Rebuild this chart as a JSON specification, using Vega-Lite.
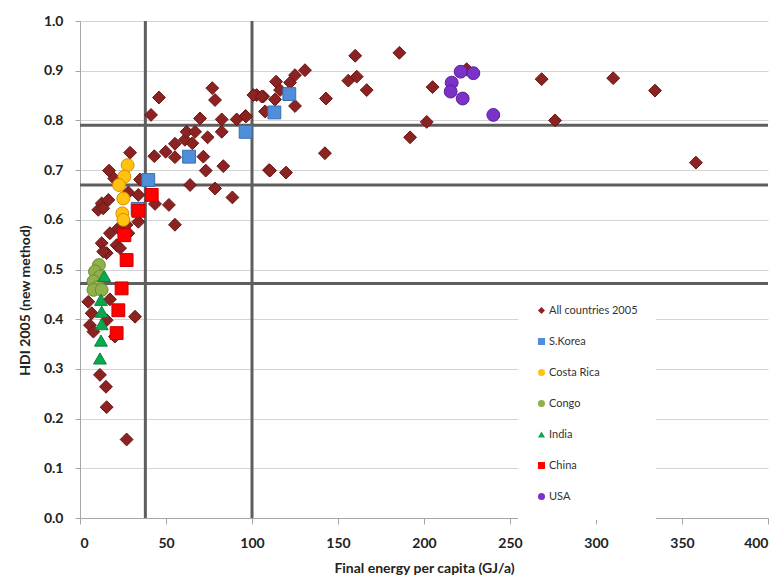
{
  "$schema": "https://vega.github.io/schema/vega-lite/v6.json",
  "width": 688,
  "height": 497,
  "autosize": {"type": "none"},
  "padding": {"left": 80, "top": 21, "right": 16, "bottom": 65},
  "background": "white",
  "config": {
    "view": {"stroke": null},
    "font": "Lato",
    "axis": {"labelFont": "Lato", "titleFont": "Lato", "labelFontWeight": "bold", "titleFontWeight": "bold", "labelColor": "#222", "titleColor": "#222", "labelFontSize": 14, "titleFontSize": 14},
    "legend": {"labelFont": "Lato", "labelFontSize": 11, "labelColor": "#333", "symbolSize": 50}
  },
  "datasets": {
    "refx": [{"energy": 38}, {"energy": 100}],
    "refy": [{"hdi": 0.79}, {"hdi": 0.67}, {"hdi": 0.472}],
    "pts": [
      {"series": "All countries 2005", "energy": 4.8, "hdi": 0.435},
      {"series": "All countries 2005", "energy": 6.8, "hdi": 0.412},
      {"series": "All countries 2005", "energy": 5.8, "hdi": 0.388},
      {"series": "All countries 2005", "energy": 7.8, "hdi": 0.375},
      {"series": "All countries 2005", "energy": 15.5, "hdi": 0.398},
      {"series": "All countries 2005", "energy": 17.4, "hdi": 0.44},
      {"series": "All countries 2005", "energy": 32, "hdi": 0.405},
      {"series": "All countries 2005", "energy": 20.3, "hdi": 0.365},
      {"series": "All countries 2005", "energy": 11.6, "hdi": 0.288},
      {"series": "All countries 2005", "energy": 15.1, "hdi": 0.264},
      {"series": "All countries 2005", "energy": 15.5, "hdi": 0.223},
      {"series": "All countries 2005", "energy": 27.1, "hdi": 0.158},
      {"series": "All countries 2005", "energy": 12.6, "hdi": 0.553},
      {"series": "All countries 2005", "energy": 21.3, "hdi": 0.549},
      {"series": "All countries 2005", "energy": 15.5, "hdi": 0.533},
      {"series": "All countries 2005", "energy": 23.3, "hdi": 0.543},
      {"series": "All countries 2005", "energy": 13.5, "hdi": 0.536},
      {"series": "All countries 2005", "energy": 17.4, "hdi": 0.573},
      {"series": "All countries 2005", "energy": 28.1, "hdi": 0.573},
      {"series": "All countries 2005", "energy": 22.3, "hdi": 0.583},
      {"series": "All countries 2005", "energy": 27.1, "hdi": 0.59},
      {"series": "All countries 2005", "energy": 33.9, "hdi": 0.596},
      {"series": "All countries 2005", "energy": 10.6, "hdi": 0.62},
      {"series": "All countries 2005", "energy": 12.6, "hdi": 0.633},
      {"series": "All countries 2005", "energy": 13.5, "hdi": 0.623},
      {"series": "All countries 2005", "energy": 16.5, "hdi": 0.64},
      {"series": "All countries 2005", "energy": 28.1, "hdi": 0.655},
      {"series": "All countries 2005", "energy": 33.9, "hdi": 0.65},
      {"series": "All countries 2005", "energy": 16.9, "hdi": 0.699},
      {"series": "All countries 2005", "energy": 19.9, "hdi": 0.683},
      {"series": "All countries 2005", "energy": 34.9, "hdi": 0.681},
      {"series": "All countries 2005", "energy": 29.1, "hdi": 0.735},
      {"series": "All countries 2005", "energy": 43.6, "hdi": 0.632},
      {"series": "All countries 2005", "energy": 51.7, "hdi": 0.63},
      {"series": "All countries 2005", "energy": 55.2, "hdi": 0.59},
      {"series": "All countries 2005", "energy": 64, "hdi": 0.67},
      {"series": "All countries 2005", "energy": 78.5, "hdi": 0.663},
      {"series": "All countries 2005", "energy": 88.6, "hdi": 0.645},
      {"series": "All countries 2005", "energy": 73.1, "hdi": 0.699},
      {"series": "All countries 2005", "energy": 83.3, "hdi": 0.708},
      {"series": "All countries 2005", "energy": 109.9, "hdi": 0.7},
      {"series": "All countries 2005", "energy": 43.2, "hdi": 0.728},
      {"series": "All countries 2005", "energy": 49.8, "hdi": 0.737},
      {"series": "All countries 2005", "energy": 55.2, "hdi": 0.726},
      {"series": "All countries 2005", "energy": 71.7, "hdi": 0.727},
      {"series": "All countries 2005", "energy": 55.2, "hdi": 0.753},
      {"series": "All countries 2005", "energy": 61, "hdi": 0.761},
      {"series": "All countries 2005", "energy": 65.3, "hdi": 0.754},
      {"series": "All countries 2005", "energy": 62, "hdi": 0.777},
      {"series": "All countries 2005", "energy": 66.9, "hdi": 0.777},
      {"series": "All countries 2005", "energy": 74.2, "hdi": 0.766},
      {"series": "All countries 2005", "energy": 82.4, "hdi": 0.777},
      {"series": "All countries 2005", "energy": 41.3, "hdi": 0.811},
      {"series": "All countries 2005", "energy": 69.8, "hdi": 0.804},
      {"series": "All countries 2005", "energy": 82.4, "hdi": 0.802},
      {"series": "All countries 2005", "energy": 91.1, "hdi": 0.802},
      {"series": "All countries 2005", "energy": 96.3, "hdi": 0.809},
      {"series": "All countries 2005", "energy": 45.9, "hdi": 0.846},
      {"series": "All countries 2005", "energy": 76.9, "hdi": 0.865},
      {"series": "All countries 2005", "energy": 78.5, "hdi": 0.841},
      {"series": "All countries 2005", "energy": 102.7, "hdi": 0.851},
      {"series": "All countries 2005", "energy": 106.6, "hdi": 0.848},
      {"series": "All countries 2005", "energy": 96.5, "hdi": 0.808},
      {"series": "All countries 2005", "energy": 107.6, "hdi": 0.818},
      {"series": "All countries 2005", "energy": 100.8, "hdi": 0.851},
      {"series": "All countries 2005", "energy": 105.6, "hdi": 0.848},
      {"series": "All countries 2005", "energy": 113.4, "hdi": 0.842},
      {"series": "All countries 2005", "energy": 116.3, "hdi": 0.861},
      {"series": "All countries 2005", "energy": 114, "hdi": 0.878},
      {"series": "All countries 2005", "energy": 122.1, "hdi": 0.876},
      {"series": "All countries 2005", "energy": 125, "hdi": 0.891},
      {"series": "All countries 2005", "energy": 130.8, "hdi": 0.901},
      {"series": "All countries 2005", "energy": 125, "hdi": 0.829},
      {"series": "All countries 2005", "energy": 110.5, "hdi": 0.699},
      {"series": "All countries 2005", "energy": 119.8, "hdi": 0.695},
      {"series": "All countries 2005", "energy": 142.4, "hdi": 0.734},
      {"series": "All countries 2005", "energy": 143, "hdi": 0.844},
      {"series": "All countries 2005", "energy": 156, "hdi": 0.88},
      {"series": "All countries 2005", "energy": 160.9, "hdi": 0.888},
      {"series": "All countries 2005", "energy": 160, "hdi": 0.93},
      {"series": "All countries 2005", "energy": 166.7, "hdi": 0.861},
      {"series": "All countries 2005", "energy": 185.7, "hdi": 0.936},
      {"series": "All countries 2005", "energy": 191.9, "hdi": 0.766},
      {"series": "All countries 2005", "energy": 201.6, "hdi": 0.797},
      {"series": "All countries 2005", "energy": 205, "hdi": 0.867},
      {"series": "All countries 2005", "energy": 224.8, "hdi": 0.903},
      {"series": "All countries 2005", "energy": 268.4, "hdi": 0.883},
      {"series": "All countries 2005", "energy": 276.2, "hdi": 0.8},
      {"series": "All countries 2005", "energy": 310, "hdi": 0.885},
      {"series": "All countries 2005", "energy": 334.3, "hdi": 0.86},
      {"series": "All countries 2005", "energy": 358.1, "hdi": 0.715},
      {"series": "S.Korea", "energy": 33.5, "hdi": 0.622},
      {"series": "S.Korea", "energy": 39.7, "hdi": 0.68},
      {"series": "S.Korea", "energy": 63.4, "hdi": 0.727},
      {"series": "S.Korea", "energy": 96.3, "hdi": 0.777},
      {"series": "S.Korea", "energy": 113, "hdi": 0.816},
      {"series": "S.Korea", "energy": 121.7, "hdi": 0.853},
      {"series": "Costa Rica", "energy": 27.7, "hdi": 0.71},
      {"series": "Costa Rica", "energy": 25.8, "hdi": 0.687},
      {"series": "Costa Rica", "energy": 22.7, "hdi": 0.67},
      {"series": "Costa Rica", "energy": 25.2, "hdi": 0.643},
      {"series": "Costa Rica", "energy": 24.6, "hdi": 0.613},
      {"series": "Costa Rica", "energy": 25.2, "hdi": 0.6},
      {"series": "Congo", "energy": 11, "hdi": 0.509},
      {"series": "Congo", "energy": 8.7, "hdi": 0.496},
      {"series": "Congo", "energy": 11.6, "hdi": 0.486},
      {"series": "Congo", "energy": 7.8, "hdi": 0.476},
      {"series": "Congo", "energy": 10.6, "hdi": 0.465},
      {"series": "Congo", "energy": 7.8, "hdi": 0.459},
      {"series": "Congo", "energy": 12.6, "hdi": 0.459},
      {"series": "India", "energy": 14.1, "hdi": 0.487},
      {"series": "India", "energy": 12.2, "hdi": 0.439},
      {"series": "India", "energy": 12.6, "hdi": 0.415},
      {"series": "India", "energy": 12.6, "hdi": 0.39},
      {"series": "India", "energy": 12.2, "hdi": 0.357},
      {"series": "India", "energy": 11.6, "hdi": 0.321},
      {"series": "China", "energy": 27.1, "hdi": 0.519},
      {"series": "China", "energy": 24.2, "hdi": 0.462},
      {"series": "China", "energy": 22.3, "hdi": 0.418},
      {"series": "China", "energy": 21.3, "hdi": 0.372},
      {"series": "China", "energy": 25.8, "hdi": 0.569},
      {"series": "China", "energy": 33.9, "hdi": 0.618},
      {"series": "China", "energy": 41.7, "hdi": 0.65},
      {"series": "USA", "energy": 221.3, "hdi": 0.898},
      {"series": "USA", "energy": 228.7, "hdi": 0.895},
      {"series": "USA", "energy": 216.1, "hdi": 0.876},
      {"series": "USA", "energy": 215.5, "hdi": 0.858},
      {"series": "USA", "energy": 222.5, "hdi": 0.844},
      {"series": "USA", "energy": 240.3, "hdi": 0.811}
    ]
  },
  "layer": [
    {
      "data": {"name": "refx"},
      "mark": {"type": "rule", "color": "#5e5e5e", "strokeWidth": 3},
      "encoding": {"x": {"field": "energy", "type": "quantitative", "scale": {"domain": [0, 400]}}}
    },
    {
      "data": {"name": "refy"},
      "mark": {"type": "rule", "color": "#5e5e5e", "strokeWidth": 3},
      "encoding": {"y": {"field": "hdi", "type": "quantitative", "scale": {"domain": [0, 1]}}}
    },
    {
      "data": {"name": "pts"},
      "mark": {"type": "point", "filled": true, "opacity": 1, "strokeWidth": 1},
      "encoding": {
        "x": {
          "field": "energy", "type": "quantitative",
          "scale": {"domain": [0, 400], "nice": false},
          "axis": {"values": [0, 50, 100, 150, 200, 250, 300, 350, 400], "grid": false, "domainColor": "#a6a6a6", "tickColor": "#a6a6a6", "tickSize": 6, "labelPadding": 12, "title": "Final energy per capita (GJ/a)", "titleY": 50, "titleBaseline": "middle"}
        },
        "y": {
          "field": "hdi", "type": "quantitative",
          "scale": {"domain": [0, 1], "nice": false},
          "axis": {"values": [0, 0.1, 0.2, 0.3, 0.4, 0.5, 0.6, 0.7, 0.8, 0.9, 1.0], "format": ".1f", "grid": true, "gridColor": "#d4d4d4", "domainColor": "#a6a6a6", "tickColor": "#a6a6a6", "tickSize": 5, "labelPadding": 12, "title": "HDI 2005 (new method)", "titleX": -55, "titleY": 279, "titleBaseline": "middle", "titleAlign": "center"}
        },
        "color": {
          "field": "series", "type": "nominal",
          "scale": {
            "domain": ["All countries 2005", "S.Korea", "Costa Rica", "Congo", "India", "China", "USA"],
            "range": ["#8c2323", "#4f8fd9", "#ffc20e", "#8fb04a", "#0aa84f", "#ff0000", "#7c32c8"]
          },
          "legend": {
            "title": null, "orient": "none", "legendX": 438, "legendY": 266,
            "padding": 18, "fillColor": "white", "symbolSize": 50, "clipHeight": 11, "rowPadding": 19, "labelOffset": 2, "symbolStrokeWidth": 0
          }
        },
        "shape": {
          "field": "series", "type": "nominal",
          "scale": {
            "domain": ["All countries 2005", "S.Korea", "Costa Rica", "Congo", "India", "China", "USA"],
            "range": ["diamond", "square", "circle", "circle", "triangle-up", "square", "circle"]
          }
        },
        "stroke": {
          "field": "series", "type": "nominal",
          "scale": {
            "domain": ["All countries 2005", "S.Korea", "Costa Rica", "Congo", "India", "China", "USA"],
            "range": ["#6b1414", "#3a6fb0", "#e08a00", "#6d8c35", "#07863d", "#cc0000", "#5a2196"]
          },
          "legend": null
        },
        "size": {"value": 165}
      }
    }
  ]
}
